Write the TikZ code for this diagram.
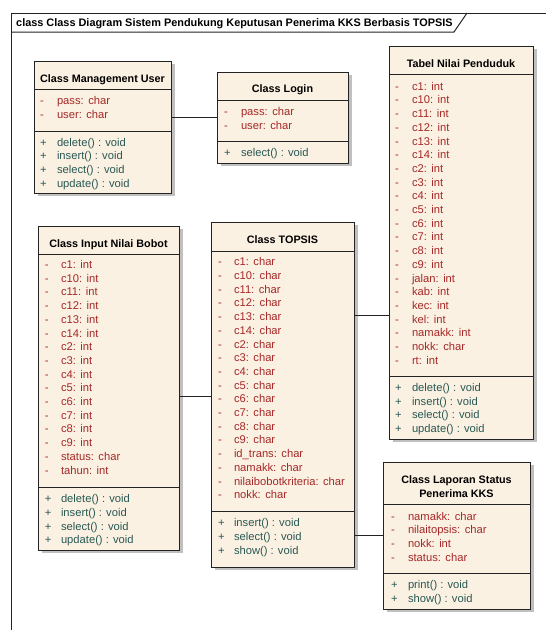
\documentclass[tikz,border=0pt]{standalone}
\usepackage{fontspec}
\setmainfont{Liberation Sans}
\definecolor{fillcol}{RGB}{251,241,226}
\definecolor{bordercol}{RGB}{35,35,35}
\definecolor{shadowcol}{RGB}{192,192,192}
\definecolor{attrcol}{RGB}{165,40,40}
\definecolor{methcol}{RGB}{40,88,84}
\newcommand\ua[2]{#1:\hspace{4.5pt}#2}
\newcommand\umlbox[7]{%
  \fill[shadowcol] (#2+3.5,-#3-3) rectangle (#4+3.5,-#5-3);
  \node[boxnode, minimum width={(#4-#2)*1pt}, minimum height={(#5-#3)*1pt}] (#1) at ({(#2+#4)/2},{-(#3+#5)/2}) {};
  \draw[sepline] (#2,-#6) -- (#4,-#6);
  \draw[sepline] (#2,-#7) -- (#4,-#7);
}
\newcommand\rowlist[7]{%
  \foreach \rtxt [count=\ri] in {#7} {
    \node[rowtxt, text=#5] (#1s\ri) at (#2, {-(#4+(\ri-1)*13.7)}) {#6};
    \node[rowtxt, text=#5] (#1t\ri) at (#3, {-(#4+(\ri-1)*13.7)}) {\rtxt};
  }}
\tikzset{
  boxnode/.style={draw=bordercol, fill=fillcol, line width=1pt, inner sep=0pt, outer sep=0pt, rectangle},
  sepline/.style={draw=bordercol, line width=1pt},
  conn/.style={draw=bordercol, line width=0.9pt},
  frameline/.style={draw=bordercol, line width=1pt},
  rowtxt/.style={anchor=base west, inner sep=0pt, outer sep=0pt, font=\fontsize{11.2}{13}\selectfont},
  hdrtxt/.style={anchor=base, inner sep=0pt, outer sep=0pt, font=\bfseries\fontsize{10.8}{13}\selectfont, text=black},
}
\begin{document}
\begin{tikzpicture}[x=1pt,y=1pt]
\useasboundingbox (0,0) rectangle (546,-630);
\fill[white] (0,0) rectangle (546,-630);
% frame
\draw[frameline] (11,-632) -- (11,-13) -- (547,-13);
\draw[frameline] (11,-32) -- (454,-32) -- (467,-13);
\node[anchor=base west, inner sep=0pt, font=\bfseries\fontsize{10.9}{13}\selectfont] (title) at (16,-26.5) {class Class Diagram Sistem Pendukung Keputusan Penerima KKS Berbasis TOPSIS};

% Class Management User
\umlbox{mu}{34}{61}{171}{193}{89}{131}
\node[hdrtxt] (muh) at (102.5,-82) {Class Management User};
\rowlist{mua}{40}{57}{104.5}{attrcol}{-}{\ua{pass}{char},\ua{user}{char}}
\rowlist{mum}{40}{57}{146.2}{methcol}{+}{delete() : void,insert() : void,select() : void,update() : void}

% Class Login
\umlbox{login}{217}{72}{348}{163}{100}{141}
\node[hdrtxt] (loginh) at (282.5,-92) {Class Login};
\rowlist{loa}{224}{241}{115.5}{attrcol}{-}{\ua{pass}{char},\ua{user}{char}}
\rowlist{lom}{224}{241}{156.5}{methcol}{+}{select() : void}

% Tabel Nilai Penduduk
\umlbox{tabel}{389}{46}{533}{439}{74}{376}
\node[hdrtxt] (tabelh) at (461,-67) {Tabel Nilai Penduduk};
\rowlist{taa}{395}{412}{90.2}{attrcol}{-}{\ua{c1}{int},\ua{c10}{int},\ua{c11}{int},\ua{c12}{int},\ua{c13}{int},\ua{c14}{int},\ua{c2}{int},\ua{c3}{int},\ua{c4}{int},\ua{c5}{int},\ua{c6}{int},\ua{c7}{int},\ua{c8}{int},\ua{c9}{int},\ua{jalan}{int},\ua{kab}{int},\ua{kec}{int},\ua{kel}{int},\ua{namakk}{int},\ua{nokk}{char},\ua{rt}{int}}
\rowlist{tam}{395}{412}{391.5}{methcol}{+}{delete() : void,insert() : void,select() : void,update() : void}

% Class Input Nilai Bobot
\umlbox{bobot}{38}{226}{179}{550}{254}{487}
\node[hdrtxt] (bototh) at (108.5,-247) {Class Input Nilai Bobot};
\rowlist{boa}{45}{61}{268.5}{attrcol}{-}{\ua{c1}{int},\ua{c10}{int},\ua{c11}{int},\ua{c12}{int},\ua{c13}{int},\ua{c14}{int},\ua{c2}{int},\ua{c3}{int},\ua{c4}{int},\ua{c5}{int},\ua{c6}{int},\ua{c7}{int},\ua{c8}{int},\ua{c9}{int},\ua{status}{char},\ua{tahun}{int}}
\rowlist{bom}{45}{61}{502.8}{methcol}{+}{delete() : void,insert() : void,select() : void,update() : void}

% Class TOPSIS
\umlbox{topsis}{211}{222}{354}{567}{251}{511}
\node[hdrtxt] (topsish) at (282.5,-243) {Class TOPSIS};
\rowlist{tpa}{218}{234}{265.8}{attrcol}{-}{\ua{c1}{char},\ua{c10}{char},\ua{c11}{char},\ua{c12}{char},\ua{c13}{char},\ua{c14}{char},\ua{c2}{char},\ua{c3}{char},\ua{c4}{char},\ua{c5}{char},\ua{c6}{char},\ua{c7}{char},\ua{c8}{char},\ua{c9}{char},\ua{id\_trans}{char},\ua{namakk}{char},\ua{nilaibobotkriteria}{char},\ua{nokk}{char}}
\rowlist{tpm}{218}{234}{526.8}{methcol}{+}{insert() : void,select() : void,show() : void}

% Class Laporan Status Penerima KKS
\umlbox{laporan}{383}{462}{530}{609}{504}{573}
\node[hdrtxt] (laporanh1) at (456.5,-483) {Class Laporan Status};
\node[hdrtxt] (laporanh2) at (456.5,-497) {Penerima KKS};
\rowlist{laa}{391}{408}{520.2}{attrcol}{-}{\ua{namakk}{char},\ua{nilaitopsis}{char},\ua{nokk}{int},\ua{status}{char}}
\rowlist{lam}{391}{408}{588.5}{methcol}{+}{print() : void,show() : void}

% connectors
\draw[conn] (mu.east |- 0,-117) -- (login.west |- 0,-117);
\draw[conn] (bobot.east |- 0,-396.5) -- (topsis.west |- 0,-396.5);
\draw[conn] (topsis.east |- 0,-315) -- (tabel.west |- 0,-315);
\draw[conn] (topsis.east |- 0,-535.5) -- (laporan.west |- 0,-535.5);
\end{tikzpicture}
\end{document}
